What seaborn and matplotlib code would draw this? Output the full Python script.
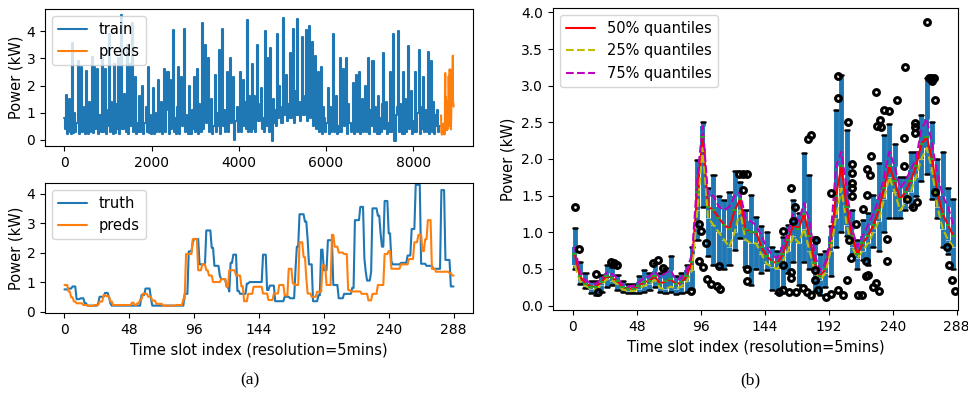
import numpy as np
import matplotlib
matplotlib.use("Agg")
import matplotlib.pyplot as plt
import seaborn as sns

# ------------------------------------------------------------------ data
# (a, top) training history: one reading per 24 time slots (2 h), 30 days
TRAIN_STEP = 24
TRAIN = [
    0.8, 0.4, 1.65, 0.2, 0.6, 1.5, 0.3, 0.2, 3.55, 0.25, 1.0, 0.3,
    0.6, 2.9, 0.2, 1.3, 2.7, 0.3, 0.5, 1.2, 0.2, 2.55, 0.3, 0.2,
    1.4, 0.3, 0.7, 3.05, 0.25, 2.7, 0.4, 0.6, 2.6, 0.2, 0.9, 0.3,
    3.0, 0.3, 1.2, 2.6, 0.2, 0.5, 1.1, 3.9, 0.3, 1.4, 0.6, 0.2,
    2.8, 0.25, 1.3, 0.4, 3.0, 0.2, 0.8, 4.6, 0.4, 1.7, 0.7, 0.3,
    3.5, 0.2, 2.8, 0.5, 1.2, 4.3, 0.3, 0.9, 2.3, 0.2, 0.6, 0.3,
    1.6, 0.3, 0.8, 2.0, 0.2, 0.6, 1.2, 0.3, 2.7, 0.25, 0.9, 0.2,
    0.5, 1.9, 0.2, 1.0, 0.3, 0.7, 2.2, 0.3, 0.6, 1.4, 0.2, 0.4,
    2.6, 0.3, 1.1, 2.5, 0.2, 2.2, 0.4, 1.0, 4.05, 0.3, 0.8, 0.2,
    1.2, 2.7, 0.2, 0.7, 2.3, 0.5, 1.5, 4.1, 0.3, 0.9, 0.6, 0.2,
    2.0, 0.2, 1.1, 0.4, 2.3, 0.3, 0.8, 2.6, 0.2, 1.3, 0.9, 0.3,
    4.3, 0.4, 1.6, 3.5, 0.6, 1.2, 3.0, 0.3, 0.9, 1.5, 0.2, 0.5,
    2.4, 0.3, 1.0, 0.5, 3.3, 0.2, 1.4, 4.1, 0.5, 1.1, 0.3, 0.6,
    2.5, 0.3, 1.3, 3.0, 0.6, 0.9, 2.3, 0.0, 0.7, 1.2, 0.3, 0.5,
    2.5, 0.3, 0.9, 2.2, 0.5, 1.4, 0.4, 4.4, 0.3, 1.6, 0.8, 0.3,
    2.8, 0.4, 1.6, 0.3, 1.0, 3.5, 0.7, 1.3, 1.9, 0.4, 0.8, 0.3,
    4.0, 0.5, 1.4, 3.0, 0.3, 3.4, 0.6, -0.05, 1.5, 0.6, 1.1, 0.5,
    3.9, 0.8, 2.0, 1.2, 0.6, 4.5, 0.9, 1.6, 2.4, 0.7, 1.3, 0.8,
    3.2, 0.8, 1.5, 4.1, 0.6, 1.8, 0.9, 4.45, 0.9, 1.4, 0.7, 1.0,
    3.8, 0.9, 1.6, 4.05, 0.7, 1.2, 4.2, 0.8, 1.5, 3.6, 0.5, 0.9,
    3.1, 0.4, 1.3, 2.5, 0.3, 0.8, 2.7, 0.2, 1.2, 0.8, 0.3, 0.6,
    1.9, 0.2, 1.2, 0.3, 0.7, 3.9, 0.3, 1.0, 1.6, 0.2, 0.5, 0.3,
    3.0, 0.3, 1.1, 2.6, 0.5, 0.9, 3.0, 0.2, 1.3, 0.6, 0.3, 0.5,
    2.1, 0.2, 0.9, 2.4, 0.3, 1.2, 2.5, 0.2, 0.6, 1.5, 0.3, 0.4,
    2.0, 0.3, 1.0, 3.0, 0.2, 1.1, 0.5, 2.9, 0.3, 1.2, 0.5, 0.2,
    1.6, 0.2, 0.8, 0.3, 1.3, 3.2, 0.4, 0.9, 1.4, 0.2, 0.6, 0.3,
    2.5, 0.3, 1.2, 3.9, -0.05, 0.9, 1.2, 4.0, 0.3, 1.3, 0.6, 0.2,
    2.5, 0.2, 1.5, 0.3, 0.8, 3.45, 0.4, 1.1, 1.8, 0.2, 0.7, 0.3,
    2.5, 0.3, 1.0, 3.3, 0.2, 1.2, 0.4, 2.3, 0.3, 1.1, 0.5, 0.3,
    3.25, 0.2, 1.2, 2.9, 0.3, 1.4, 0.2, 0.9, 0.5, 1.1, 0.3, 0.5,
]
TRAIN_LEN = 8640          # slots of history; predictions follow
N_SLOTS = 289             # slots 0..288 of the predicted day

# (a, bottom) truth and predictions as step levels (start slot -> value)
TRUTH_STARTS = [0, 3, 6, 9, 12, 15, 17, 25, 26, 30, 33, 34, 35, 57, 60, 64, 65, 89, 92, 95,
                96, 100, 105, 109, 111, 115, 116, 120, 122, 123, 125, 128, 130, 135, 137, 147,
                150, 152, 156, 163, 167, 171, 172, 174, 178, 180, 181, 184, 188, 190, 192, 195,
                199, 203, 207, 213, 215, 219, 222, 223, 224, 227, 228, 232, 234, 235, 237, 240,
                242, 243, 249, 254, 257, 260, 264, 268, 273, 279, 282, 286]
TRUTH_LEVELS = [0.75, 0.78, 0.85, 0.42, 0.45, 0.28, 0.2, 0.28, 0.5, 0.63, 0.48, 0.28, 0.2, 0.56,
                0.78, 0.45, 0.2, 0.6, 2.04, 2.35, 2.46, 1.6, 2.75, 2.16, 1.55, 1.22, 1.1, 0.85,
                0.68, 1.65, 1.93, 0.7, 0.6, 0.95, 1.0, 1.93, 0.73, 0.88, 0.35, 0.5, 0.45, 1.4,
                2.2, 3.3, 3.05, 2.45, 1.6, 0.35, 0.55, 2.1, 1.4, 2.42, 0.9, 0.45, 0.6, 0.8, 3.1,
                3.55, 1.8, 1.35, 1.05, 1.35, 3.5, 3.25, 2.65, 2.2, 3.75, 2.65, 1.7, 1.6, 1.65,
                1.9, 2.8, 4.3, 1.62, 1.55, 1.45, 4.12, 1.75, 0.85]
PRED_STARTS = [0, 3, 5, 7, 9, 14, 18, 22, 26, 29, 31, 34, 36, 50, 52, 54, 56, 58, 62, 65, 68, 73,
               83, 88, 90, 95, 99, 102, 105, 107, 110, 116, 120, 122, 127, 131, 133, 136, 140,
               147, 151, 155, 159, 163, 166, 169, 171, 174, 177, 179, 180, 183, 187, 191, 194,
               198, 200, 203, 207, 210, 212, 220, 225, 228, 232, 237, 240, 242, 249, 255, 259,
               262, 265, 267, 269, 272, 275, 285, 287]
PRED_LEVELS = [0.9, 0.68, 0.48, 0.34, 0.28, 0.22, 0.19, 0.22, 0.34, 0.56, 0.52, 0.34, 0.22, 0.3,
               0.22, 0.28, 0.4, 0.6, 0.5, 0.37, 0.26, 0.2, 0.22, 0.42, 1.95, 2.46, 1.4, 1.6, 1.4,
               1.22, 1.0, 1.1, 0.84, 1.4, 1.22, 0.85, 0.35, 0.6, 0.84, 0.61, 0.39, 0.61, 0.9,
               0.55, 1.45, 0.95, 0.9, 2.35, 1.85, 1.15, 0.61, 0.5, 0.67, 1.56, 0.9, 2.6, 2.2,
               2.0, 1.95, 0.73, 0.68, 0.6, 0.38, 0.6, 0.9, 1.95, 2.05, 1.45, 1.6, 1.78, 2.35,
               2.6, 2.05, 2.45, 3.1, 1.45, 1.35, 1.3, 1.22]

# (b) per-block (4 slots) distribution statistics
BLOCK = 4
BOX_HI = [1.06, 0.6, 0.44, 0.33, 0.33, 0.42, 0.55, 0.53, 0.42, 0.33, 0.3, 0.3,
          0.4, 0.49, 0.44, 0.58, 0.44, 0.51, 0.67, 0.4, 0.44, 0.55, 0.8, 1.98,
          2.5, 1.6, 1.78, 1.49, 1.44, 1.55, 1.83, 1.69, 1.3, 1.51, 1.21, 1.09,
          1.0, 0.8, 0.74, 0.94, 1.1, 1.44, 1.26, 2.08, 1.78, 0.94, 0.71, 0.74,
          1.08, 2.67, 3.15, 2.4, 1.3, 0.9, 1.17, 1.26, 1.51, 1.95, 2.33, 2.48,
          2.2, 1.75, 1.75, 2.1, 2.1, 2.6, 3.1, 2.5, 2.0, 2.1, 1.6, 1.45]
BOX_Q75 = [0.8, 0.45, 0.35, 0.3, 0.3, 0.36, 0.45, 0.43, 0.38, 0.28, 0.26, 0.27,
           0.32, 0.38, 0.4, 0.47, 0.38, 0.45, 0.48, 0.35, 0.38, 0.48, 0.7, 1.75,
           2.45, 1.5, 1.5, 1.35, 1.3, 1.35, 1.5, 1.55, 1.2, 1.15, 1.1, 0.95,
           0.8, 0.68, 0.65, 0.8, 1.0, 1.25, 1.15, 1.4, 1.15, 0.7, 0.48, 0.58,
           0.95, 1.9, 2.1, 1.6, 1.05, 0.8, 0.95, 1.1, 1.25, 1.45, 1.75, 2.1,
           1.9, 1.6, 1.7, 1.85, 2.0, 2.4, 2.55, 2.2, 1.8, 1.5, 1.35, 1.1]
BOX_Q50 = [0.7, 0.4, 0.3, 0.26, 0.26, 0.32, 0.4, 0.38, 0.33, 0.25, 0.23, 0.23,
           0.27, 0.32, 0.34, 0.4, 0.3, 0.33, 0.36, 0.29, 0.32, 0.4, 0.6, 1.55,
           2.3, 1.35, 1.3, 1.2, 1.1, 1.05, 1.3, 1.45, 1.05, 1.0, 1.0, 0.8,
           0.68, 0.6, 0.58, 0.7, 0.9, 1.1, 1.05, 1.25, 0.95, 0.58, 0.4, 0.5,
           0.85, 1.5, 1.9, 1.35, 0.95, 0.7, 0.85, 0.95, 1.1, 1.3, 1.6, 1.9,
           1.7, 1.45, 1.55, 1.7, 1.9, 2.2, 2.3, 2.0, 1.55, 1.25, 1.1, 0.95]
BOX_Q25 = [0.55, 0.33, 0.27, 0.23, 0.22, 0.28, 0.36, 0.34, 0.29, 0.22, 0.2, 0.2,
           0.23, 0.27, 0.3, 0.35, 0.24, 0.22, 0.26, 0.23, 0.26, 0.33, 0.48, 1.3,
           2.15, 1.2, 1.1, 1.0, 0.9, 0.8, 1.0, 1.3, 0.9, 0.85, 0.85, 0.7,
           0.57, 0.53, 0.5, 0.6, 0.75, 0.95, 0.85, 1.05, 0.75, 0.47, 0.35, 0.44,
           0.75, 1.2, 1.6, 1.1, 0.8, 0.65, 0.75, 0.85, 1.0, 1.15, 1.45, 1.75,
           1.55, 1.3, 1.4, 1.55, 1.75, 2.0, 2.15, 1.85, 1.35, 1.05, 0.9, 0.8]
BOX_LO = [0.5, 0.3, 0.24, 0.17, 0.15, 0.19, 0.26, 0.28, 0.21, 0.18, 0.17, 0.17,
          0.17, 0.19, 0.21, 0.26, 0.18, 0.17, 0.18, 0.16, 0.17, 0.19, 0.22, 0.9,
          1.35, 0.67, 0.55, 0.51, 0.5, 0.55, 0.76, 0.92, 0.53, 0.28, 0.5, 0.45,
          0.49, 0.21, 0.17, 0.25, 0.45, 0.6, 0.28, 0.6, 0.5, 0.2, 0.15, 0.26,
          0.4, 0.8, 1.0, 0.95, 0.7, 0.5, 0.62, 0.55, 0.8, 0.75, 1.0, 1.2,
          1.2, 1.2, 1.3, 1.35, 1.5, 1.7, 1.8, 1.45, 1.2, 0.8, 0.7, 0.5]
FLIER_SLOT = [1.7, 4.8, 17.5, 19, 28.5, 31, 33, 60, 64, 67.6, 89, 94.8, 96, 100, 95, 98, 101,
              104, 108, 110.5, 110, 125, 128, 131, 127.8, 131, 131, 154.8, 158, 162, 157.8,
              157.8, 164, 165, 167, 164, 164, 167.6, 173, 175.5, 179, 176.7, 179, 182, 182.6,
              182, 184, 190, 193.8, 194, 199.3, 199.3, 199, 203, 206, 206.8, 209.3, 209.3,
              209.3, 209.3, 209.3, 212.6, 207.6, 208.5, 214, 217, 219.8, 221.5, 219.8, 218,
              221, 220.5, 223, 224, 225, 227.5, 230, 227.8, 228.5, 230.5, 231.5, 233.5, 237.3,
              236, 236, 243, 249, 248.5, 248.5, 250.5, 255, 258.6, 257, 257, 257, 265.7, 267,
              268.5, 269.5, 271, 271.6, 272, 281, 282, 284.5, 286.6]
FLIER_VAL = [1.34, 0.77, 0.43, 0.19, 0.59, 0.58, 0.55, 0.58, 0.62, 0.51, 0.2, 1.11, 1.02, 0.86,
             0.61, 0.52, 0.36, 0.3, 0.27, 0.23, 0.54, 1.8, 1.8, 1.8, 1.58, 0.5, 0.34, 0.18,
             0.21, 0.19, 0.55, 1.02, 1.61, 1.15, 1.34, 0.46, 0.38, 0.19, 0.24, 0.18, 0.14,
             2.27, 2.33, 0.49, 0.89, 0.35, 0.21, 0.12, 1.54, 0.16, 3.13, 2.83, 0.21, 0.14,
             0.35, 2.51, 1.93, 1.81, 1.67, 1.6, 1.49, 1.12, 0.9, 0.65, 0.15, 0.15, 0.41, 0.42,
             0.61, 1.32, 1.51, 1.87, 1.78, 2.04, 0.25, 0.31, 0.2, 2.92, 2.45, 2.53, 2.43, 2.67,
             2.65, 0.91, 0.61, 2.8, 3.26, 2.29, 1.91, 1.45, 1.35, 1.42, 2.49, 2.44, 2.36, 3.87,
             3.1, 3.1, 3.07, 3.1, 2.8, 1.55, 0.8, 0.55, 0.35, 0.2]

TRAIN_TICKS = [0, 2000, 4000, 6000, 8000]
DAY_TICKS = [0, 48, 96, 144, 192, 240, 288]
BOX_YTICKS = [0.0, 0.5, 1.0, 1.5, 2.0, 2.5, 3.0, 3.5, 4.0]

# ------------------------------------------------------------------ style
sns.set_style("ticks")
plt.rcParams.update({
    "font.family": ["DejaVu Sans"],
    "axes.edgecolor": "black", "axes.linewidth": 0.8,
    "text.color": "black", "axes.labelcolor": "black",
    "xtick.color": "black", "ytick.color": "black",
    "xtick.labelsize": 10, "ytick.labelsize": 10,
    "xtick.major.size": 3.5, "ytick.major.size": 3.5,
    "xtick.major.width": 0.8, "ytick.major.width": 0.8,
    "axes.labelsize": 10.5, "legend.fontsize": 10.5,
    "legend.frameon": True, "legend.framealpha": 0.8, "legend.edgecolor": "0.8",
    "legend.fancybox": True,
})

W, H = 968, 395
fig = plt.figure(figsize=(W / 100, H / 100), dpi=100)
ax1 = fig.add_axes([45 / W, 1 - 146 / H, 428 / W, 137 / H])
ax2 = fig.add_axes([45 / W, 1 - 313 / H, 428 / W, 130 / H])
ax3 = fig.add_axes([553 / W, 1 - 310 / H, 405 / W, 302 / H])

slots = np.arange(N_SLOTS)
truth = np.repeat(TRUTH_LEVELS, np.diff(TRUTH_STARTS + [N_SLOTS]))
preds = np.repeat(PRED_LEVELS, np.diff(PRED_STARTS + [N_SLOTS]))

# --- (a) top
train_x = np.arange(len(TRAIN)) * TRAIN_STEP
sns.lineplot(x=train_x, y=TRAIN, ax=ax1, color="C0", lw=1.5, label="train",
             estimator=None, drawstyle="steps-mid")
sns.lineplot(x=TRAIN_LEN + slots, y=preds, ax=ax1, color="C1", lw=1.5, label="preds",
             estimator=None)
ax1.set_xlim(-446, 9374)
ax1.set_ylim(-0.23, 4.82)
ax1.set_xticks(TRAIN_TICKS)
ax1.set_yticks([0, 1, 2, 3, 4])
ax1.set_ylabel("Power (kW)", labelpad=2)
ax1.legend(loc="upper left")

# --- (a) bottom
sns.lineplot(x=slots, y=truth, ax=ax2, color="C0", lw=1.5, label="truth", estimator=None)
sns.lineplot(x=slots, y=preds, ax=ax2, color="C1", lw=1.5, label="preds", estimator=None)
ax2.set_xlim(-14.4, 302.4)
ax2.set_ylim(-0.05, 4.36)
ax2.set_xticks(DAY_TICKS)
ax2.set_yticks([0, 1, 2, 3, 4])
ax2.set_ylabel("Power (kW)", labelpad=2)
ax2.set_xlabel("Time slot index (resolution=5mins)")
ax2.legend(loc="upper left")

# --- (b)
centers = np.arange(len(BOX_HI)) * BLOCK + (BLOCK - 1) / 2
stats = [dict(med=m, q1=a, q3=b, whislo=lo, whishi=hi, fliers=[])
         for m, a, b, lo, hi in zip(BOX_Q50, BOX_Q25, BOX_Q75, BOX_LO, BOX_HI)]
ax3.bxp(stats, positions=centers, widths=BLOCK * 0.9, capwidths=BLOCK * 0.8,
        patch_artist=True, showfliers=False, manage_ticks=False,
        boxprops=dict(facecolor="C0", edgecolor="C0", linewidth=0),
        whiskerprops=dict(color="C0", linewidth=3.5, solid_capstyle="butt"),
        capprops=dict(color="black", linewidth=1.8),
        medianprops=dict(color="C2", linewidth=1.5))
sns.lineplot(x=centers, y=BOX_Q50, ax=ax3, color="red", lw=1.5, label="50% quantiles",
             estimator=None)
sns.lineplot(x=centers, y=BOX_Q25, ax=ax3, color="y", lw=1.5, linestyle="--",
             label="25% quantiles", estimator=None)
sns.lineplot(x=centers, y=BOX_Q75, ax=ax3, color="m", lw=1.5, linestyle="--",
             label="75% quantiles", estimator=None)
ax3.plot(FLIER_SLOT, FLIER_VAL, ls="none", marker="o", ms=4.2, mfc="none", mec="black",
         mew=2.2, zorder=4)
ax3.set_xlim(-14.8, 289)
ax3.set_ylim(-0.06, 4.06)
ax3.set_xticks(DAY_TICKS)
ax3.set_xticklabels([str(t) for t in DAY_TICKS])
ax3.set_yticks(BOX_YTICKS)
ax3.set_ylabel("Power (kW)")
ax3.set_xlabel("Time slot index (resolution=5mins)")
ax3.legend(loc="upper left")

fig.text(250 / W, 1 - 380 / H, "(a)", ha="center", va="center",
         family=["Liberation Serif", "DejaVu Serif"], fontsize=12.5)
fig.text(750 / W, 1 - 380 / H, "(b)", ha="center", va="center",
         family=["Liberation Serif", "DejaVu Serif"], fontsize=12.5)

fig.savefig("out.png", dpi=100)
